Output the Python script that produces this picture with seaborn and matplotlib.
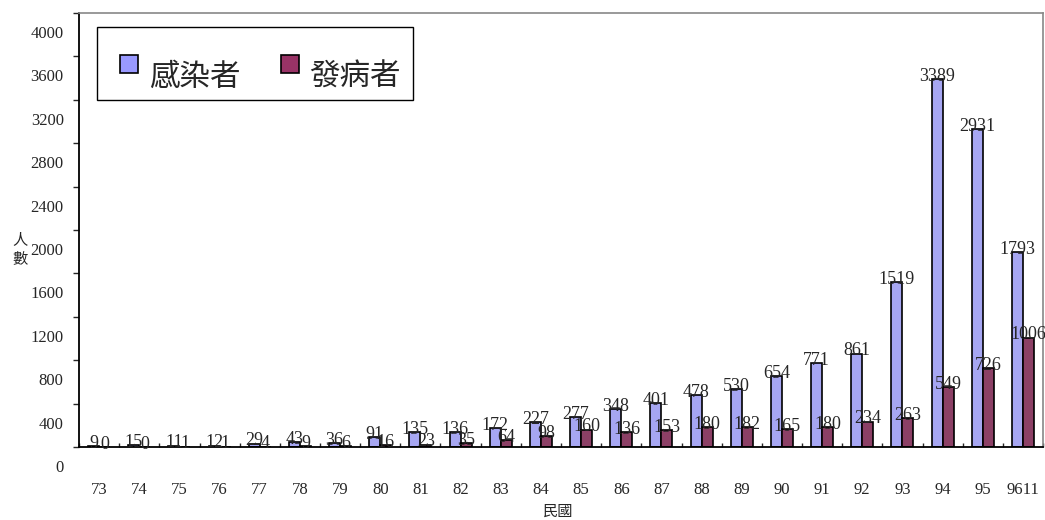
import matplotlib
matplotlib.use('Agg')
import matplotlib.pyplot as plt
import matplotlib.transforms as mtransforms
from matplotlib.patches import Rectangle
import numpy as np
import pandas as pd
import seaborn as sns

# data
years = ['73', '74', '75', '76', '77', '78', '79', '80', '81', '82', '83', '84',
         '85', '86', '87', '88', '89', '90', '91', '92', '93', '94', '95', '9611']
infected = [9, 15, 11, 12, 29, 43, 36, 91, 135, 136, 172, 227,
            277, 348, 401, 478, 530, 654, 771, 861, 1519, 3389, 2931, 1793]
sick = [0, 0, 1, 1, 4, 9, 6, 16, 23, 35, 64, 98,
        160, 136, 153, 180, 182, 165, 180, 234, 263, 549, 726, 1006]
series_names = ['感染者', '發病者']
series_colors = ['#9999FF', '#993366']

df = pd.DataFrame({
    'year': years * 2,
    'count': infected + sick,
    'group': [series_names[0]] * len(years) + [series_names[1]] * len(years),
})

sns.set_style('white')
plt.rcParams['font.family'] = ['Liberation Serif', 'Noto Sans CJK TC', 'DejaVu Sans']
cjk = ['Noto Sans CJK TC', 'DejaVu Sans']

W, H = 1045, 520
fig = plt.figure(figsize=(W / 100, H / 100), dpi=100)
ax = fig.add_axes([79 / W, 1 - 447 / H, 964 / W, 434 / H])

sns.barplot(data=df, x='year', y='count', hue='group', palette=series_colors,
            width=0.55, edgecolor='black', linewidth=1.2, ax=ax, legend=False)

# value labels on top of each bar
for cont in ax.containers:
    ax.bar_label(cont, fmt='%d', padding=-4, fontsize=13, family='Liberation Serif')

ax.set_ylim(0, 4000)
ax.set_xlim(-0.5, len(years) - 0.5)
ax.set_yticks(np.arange(0, 4001, 400))
ax.tick_params(axis='y', direction='out', length=4, width=1, pad=7, labelsize=12, left=True)
# excel-ish offset of y labels below their ticks
offset = mtransforms.ScaledTranslation(0, -19 / 100, fig.dpi_scale_trans)
for lab in ax.get_yticklabels():
    lab.set_transform(lab.get_transform() + offset)

ax.tick_params(axis='x', which='major', length=0, pad=25, labelsize=12)
ax.set_xticks(np.arange(-0.5, len(years), 1), minor=True)
ax.tick_params(axis='x', which='minor', direction='in', length=3, width=1, bottom=True)

ax.set_xlabel('')
ax.set_ylabel('')
fig.text(558 / W, 1 - 511 / H, '民國', ha='center', va='center', fontsize=11, family=cjk)
fig.text(20 / W, 1 - 249 / H, '人\n數', ha='center', va='center', fontsize=11,
         family=cjk, linespacing=1.2)

for side in ['left', 'bottom']:
    ax.spines[side].set_color('black')
    ax.spines[side].set_linewidth(1.3)
for side in ['top', 'right']:
    ax.spines[side].set_color('#888888')
    ax.spines[side].set_linewidth(1.2)

# legend box drawn by hand (excel style: swatch sits above the text)
def px(x, y):
    return x / W, 1 - y / H

fig.add_artist(Rectangle(px(97, 100), 316 / W, 73 / H, transform=fig.transFigure,
                         facecolor='white', edgecolor='black', linewidth=1.0, zorder=5))
for name, color, x_sw, x_txt in zip(series_names, series_colors, [120, 281], [149, 309]):
    fig.add_artist(Rectangle(px(x_sw, 73), 18 / W, 18 / H, transform=fig.transFigure,
                             facecolor=color, edgecolor='black', linewidth=1.2, zorder=6))
    fig.text(*px(x_txt, 77), name, ha='left', va='center', fontsize=22, family=cjk, zorder=7)

fig.savefig('out.png', dpi=100)
